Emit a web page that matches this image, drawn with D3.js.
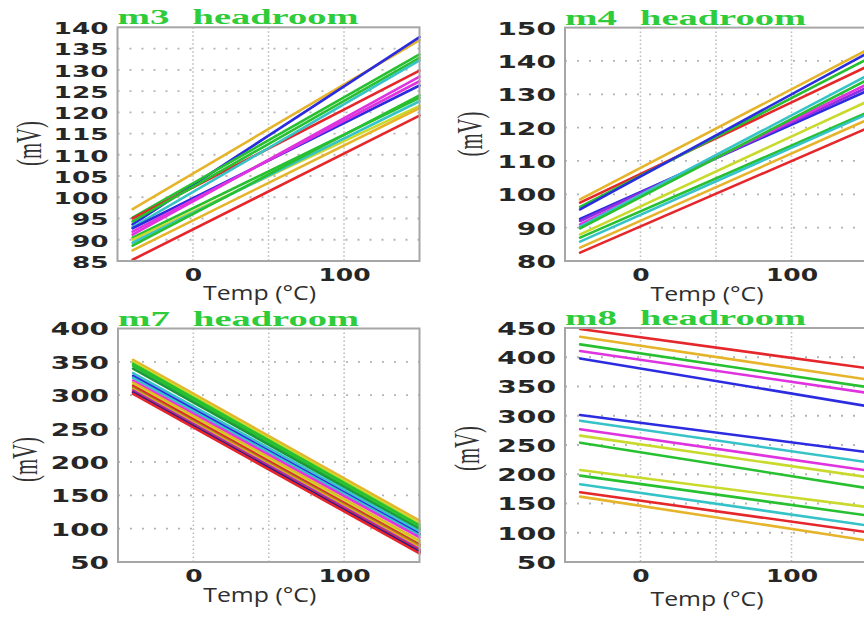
<!DOCTYPE html>
<html>
<head>
<meta charset="utf-8">
<script src="https://cdn.jsdelivr.net/npm/d3@7"></script>
<style>
  html, body { margin: 0; padding: 0; background: #fff; }
  svg { display: block; }
</style>
</head>
<body>
<svg id="chart" width="864" height="617"></svg>
<script>
// Headroom (mV) versus temperature for four devices, one straight trace per corner/sample.
// Each trace is given by its value at the two ends of the sweep.
const sweepTemps = [-40, 150];
const xGridTicks = [0, 50, 100];
const xLabelTicks = [0, 100];

const palette = {
  red: "#e5262b", gold: "#e6b42a", green: "#27c030", blue: "#2b2be0",
  magenta: "#df33df", cyan: "#35c3c8", lime: "#c9da2c", purple: "#8b2fe0",
  dkgreen: "#1b9a3c", olive: "#9a8c22", orange: "#f09c22", navy: "#1c1c9c"
};

// m3
const m3Colors = ["gold", "blue", "green", "red", "green", "cyan", "blue", "magenta", "magenta", "green", "lime", "cyan", "green", "gold", "red"];
const m3Cold   = [97.2, 93.6, 95.2, 95.0, 94.3, 93.0, 92.7, 91.9, 91.2, 90.5, 90.0, 89.3, 88.6, 87.5, 85.3];
const m3Hot    = [137.0, 137.7, 133.6, 129.8, 132.8, 132.2, 126.3, 127.3, 128.4, 123.4, 121.5, 122.6, 124.0, 121.0, 119.2];
const m3YTicks = [85, 90, 95, 100, 105, 110, 115, 120, 125, 130, 135, 140];

// m4
const m4Colors = ["gold", "red", "green", "blue", "blue", "purple", "magenta", "cyan", "green", "lime", "green", "cyan", "gold", "red"];
const m4Cold   = [98.5, 97.5, 96.2, 95.5, 92.6, 92.0, 91.0, 90.3, 89.8, 88.0, 87.0, 85.8, 84.0, 82.5];
const m4Hot    = [143.3, 138.3, 140.5, 142.3, 131.0, 132.0, 133.0, 135.6, 134.3, 127.8, 124.5, 124.0, 122.3, 119.8];
const m4YTicks = [80, 90, 100, 110, 120, 130, 140, 150];

// m7
const m7Colors = ["gold", "lime", "green", "green", "dkgreen", "cyan", "blue", "cyan", "magenta", "gold", "lime", "red", "olive", "orange", "purple", "red", "navy", "red"];
const m7Cold   = [353, 350, 347, 344, 340, 333, 329, 326, 322, 319, 316, 314, 311, 309, 307, 305, 304, 302];
const m7Hot    = [112, 108, 105, 101, 99, 96, 92, 90, 87, 82, 79, 76, 74, 72, 69, 67, 65, 63];
const m7YTicks = [50, 100, 150, 200, 250, 300, 350, 400];

// m8
const m8Colors = ["red", "gold", "green", "magenta", "blue", "blue", "cyan", "magenta", "lime", "green", "lime", "green", "cyan", "red", "gold"];
const m8Cold   = [448.3, 435.0, 422.0, 410.7, 398.0, 301.3, 291.6, 276.8, 266.0, 254.0, 207.3, 197.6, 182.8, 169.1, 161.7];
const m8Hot    = [381.3, 362.0, 349.0, 339.3, 316.5, 237.8, 220.7, 206.6, 195.1, 176.3, 143.9, 129.6, 112.5, 101.1, 86.9];
const m8YTicks = [50, 100, 150, 200, 250, 300, 350, 400, 450];

function buildSeries(colors, cold, hot) {
  return colors.map((c, i) => ({
    color: palette[c],
    points: [[sweepTemps[0], cold[i]], [sweepTemps[1], hot[i]]]
  }));
}

const panels = [
  { device: "m3", series: buildSeries(m3Colors, m3Cold, m3Hot), yTicks: m3YTicks,
    left: 117.5, right: 419.5, top: 27.3, bottom: 261, tickCharW: 18.3, tickSize: 16.5,
    mvX: 30, mvY: 143.5, tempY: 300 },
  { device: "m4", series: buildSeries(m4Colors, m4Cold, m4Hot), yTicks: m4YTicks,
    left: 565, right: 867, top: 27.6, bottom: 261, tickCharW: 19.6, tickSize: 17,
    mvX: 471, mvY: 134, tempY: 301 },
  { device: "m7", series: buildSeries(m7Colors, m7Cold, m7Hot), yTicks: m7YTicks,
    left: 118, right: 419.5, top: 328.5, bottom: 562, tickCharW: 19.4, tickSize: 17,
    mvX: 26, mvY: 459.5, tempY: 602 },
  { device: "m8", series: buildSeries(m8Colors, m8Cold, m8Hot), yTicks: m8YTicks,
    left: 565, right: 867, top: 328, bottom: 562, tickCharW: 19.6, tickSize: 17,
    mvX: 468, mvY: 448.5, tempY: 606 }
];

const svg = d3.select("#chart");
svg.append("rect").attr("width", 864).attr("height", 617).attr("fill", "#fff");

panels.forEach(p => {
  const x = d3.scaleLinear().domain([-50, 150]).range([p.left, p.right]);
  const y = d3.scaleLinear().domain(d3.extent(p.yTicks)).range([p.bottom, p.top]);
  const g = svg.append("g");

  // dotted grid
  g.append("g").selectAll("line")
    .data(p.yTicks.slice(1, -1))
    .join("line")
    .attr("x1", p.left).attr("x2", p.right)
    .attr("y1", d => y(d)).attr("y2", d => y(d))
    .attr("stroke", "#b4b4b4").attr("stroke-width", 1.8)
    .attr("stroke-dasharray", "2,10");
  g.append("g").selectAll("line")
    .data(xGridTicks)
    .join("line")
    .attr("x1", d => x(d)).attr("x2", d => x(d))
    .attr("y1", p.top).attr("y2", p.bottom)
    .attr("stroke", "#bdbdbd").attr("stroke-width", 1.6)
    .attr("stroke-dasharray", "1.5,2.5");

  // traces
  const line = d3.line().x(d => x(d[0])).y(d => y(d[1]));
  g.append("g").selectAll("path")
    .data(p.series)
    .join("path")
    .attr("d", d => line(d.points))
    .attr("fill", "none")
    .attr("stroke", d => d.color)
    .attr("stroke-width", 2.6)
    .attr("stroke-linecap", "round");

  // frame
  g.append("rect")
    .attr("x", p.left).attr("y", p.top)
    .attr("width", p.right - p.left).attr("height", p.bottom - p.top)
    .attr("fill", "none").attr("stroke", "#a6a6a6").attr("stroke-width", 2);

  // y axis
  const ya = g.append("g")
    .attr("transform", `translate(${p.left},0)`)
    .call(d3.axisLeft(y).tickValues(p.yTicks).tickSize(0).tickPadding(9).tickFormat(d3.format("d")));
  ya.select(".domain").remove();
  ya.selectAll("text")
    .attr("font-family", "'DejaVu Sans', sans-serif")
    .attr("font-weight", "bold")
    .attr("font-size", p.tickSize)
    .attr("fill", "#262626")
    .attr("dy", "0.38em")
    .attr("textLength", function() { return this.textContent.length * p.tickCharW; })
    .attr("lengthAdjust", "spacingAndGlyphs");

  // x axis
  const xa = g.append("g")
    .attr("transform", `translate(0,${p.bottom})`)
    .call(d3.axisBottom(x).tickValues(xLabelTicks).tickSize(0).tickPadding(8).tickFormat(d3.format("d")));
  xa.select(".domain").remove();
  xa.selectAll("text")
    .attr("font-family", "'DejaVu Sans', sans-serif")
    .attr("font-weight", "bold")
    .attr("font-size", 17)
    .attr("fill", "#262626")
    .attr("textLength", function() { return this.textContent.length * 17.4; })
    .attr("lengthAdjust", "spacingAndGlyphs");

  // title: device name and "headroom", set as two words
  const titleStyle = sel => sel
    .attr("y", p.top - 3)
    .attr("font-family", "'Liberation Serif', serif")
    .attr("font-weight", "bold")
    .attr("font-size", 21)
    .attr("fill", "#2ecc3a")
    .attr("lengthAdjust", "spacingAndGlyphs");
  g.append("text").call(titleStyle)
    .attr("x", p.left).attr("textLength", 52).text(p.device);
  g.append("text").call(titleStyle)
    .attr("x", p.left + 75).attr("textLength", 166).text("headroom");

  // axis titles
  g.append("text")
    .attr("x", x(50) - 9).attr("y", p.tempY)
    .attr("text-anchor", "middle")
    .attr("font-family", "'Open Sans', sans-serif")
    .attr("font-size", 20)
    .attr("fill", "#2e2e2e")
    .attr("textLength", 113)
    .attr("lengthAdjust", "spacingAndGlyphs")
    .text("Temp (°C)");

  g.append("text")
    .attr("transform", `translate(${p.mvX + 11},${p.mvY}) rotate(-90)`)
    .attr("text-anchor", "middle")
    .attr("font-family", "'Liberation Serif', serif")
    .attr("font-size", 36)
    .attr("fill", "#333")
    .attr("textLength", 45)
    .attr("lengthAdjust", "spacingAndGlyphs")
    .text("(mV)");
});
</script>
</body>
</html>
